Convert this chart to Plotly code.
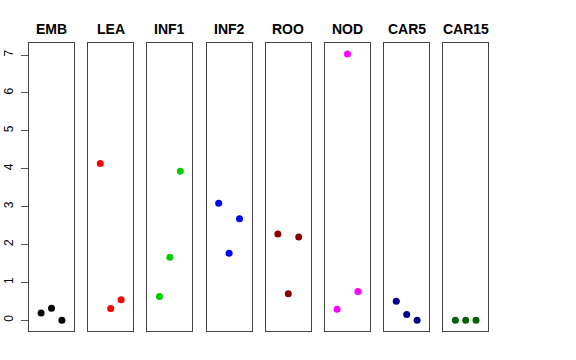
import plotly.graph_objects as go

panels = ["EMB", "LEA", "INF1", "INF2", "ROO", "NOD", "CAR5", "CAR15"]
colors = ["#000000", "#FF0000", "#00CD00", "#0000FF", "#8B0000", "#FF00FF", "#00008B", "#006400"]
x_pos = [1, 2, 3]
values = {
    "EMB": [0.19, 0.32, 0.0],
    "LEA": [4.14, 0.31, 0.54],
    "INF1": [0.63, 1.66, 3.93],
    "INF2": [3.09, 1.77, 2.68],
    "ROO": [2.28, 0.70, 2.20],
    "NOD": [0.29, 7.03, 0.76],
    "CAR5": [0.50, 0.15, 0.0],
    "CAR15": [0.0, 0.0, 0.0],
}
y_ticks = [0, 1, 2, 3, 4, 5, 6, 7]

W, H = 576, 360
ml, mr, mt, mb = 29, 88, 43, 29
pw = W - ml - mr
step, width = 59.2, 45.0

fig = go.Figure()
layout = dict(
    width=W, height=H, margin=dict(l=ml, r=mr, t=mt, b=mb),
    paper_bgcolor="white", plot_bgcolor="white", showlegend=False,
    font=dict(family="Liberation Sans, Arial, sans-serif", color="black"),
)
annotations = []
for i, (name, col) in enumerate(zip(panels, colors)):
    sfx = "" if i == 0 else str(i + 1)
    fig.add_trace(go.Scatter(
        x=x_pos, y=values[name], mode="markers",
        marker=dict(color=col, size=7),
        xaxis="x" + sfx, yaxis="y" + sfx, hoverinfo="skip",
    ))
    d0 = (i * step) / pw
    d1 = min((i * step + width) / pw, 1.0)
    layout["xaxis" + sfx] = dict(
        domain=[d0, d1], range=[-0.16, 4.16], showgrid=False, zeroline=False,
        showticklabels=False, ticks="", showline=True, mirror=True,
        linecolor="#444444", linewidth=1, anchor="y" + sfx, fixedrange=True,
    )
    ya = dict(
        range=[-0.283, 7.317], showgrid=False, zeroline=False,
        showline=True, mirror=True, linecolor="#444444", linewidth=1,
        anchor="x" + sfx, domain=[0, 1], fixedrange=True,
    )
    if i == 0:
        ya.update(tickvals=y_ticks, ticktext=[str(t) for t in y_ticks],
                  ticks="outside", ticklen=7, tickcolor="#555555", tickwidth=1,
                  tickangle=-90, tickfont=dict(size=12, color="black"),
                  ticklabelstandoff=3, automargin=False)
    else:
        ya.update(showticklabels=False, ticks="")
    layout["yaxis" + sfx] = ya
    annotations.append(dict(
        text="<b>%s</b>" % name, x=(d0 + d1) / 2, y=1, xref="paper", yref="paper",
        xanchor="center", yanchor="middle", yshift=14, showarrow=False,
        font=dict(size=14, color="black"),
    ))
layout["annotations"] = annotations
fig.update_layout(**layout)
fig.write_html("out.html", config={"displayModeBar": False},
               post_script="document.body.style.margin='0px';")
